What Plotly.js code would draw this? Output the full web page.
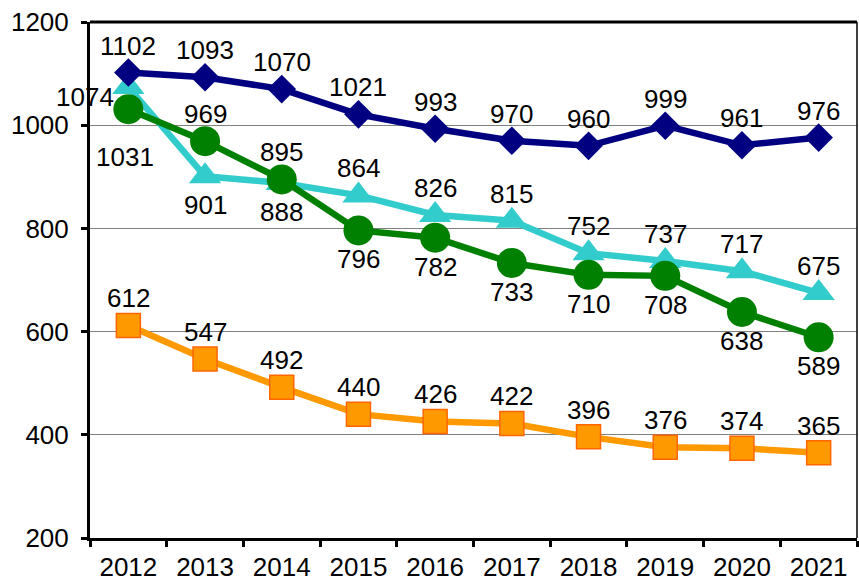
<!DOCTYPE html>
<html>
<head>
<meta charset="utf-8">
<script src="https://cdn.plot.ly/plotly-3.0.1.min.js"></script>
<style>html,body{margin:0;padding:0;background:#fff;}#chart{width:859px;height:582px;}</style>
</head>
<body>
<div id="chart"></div>
<script>
// ---- data ----
var years = ['2012','2013','2014','2015','2016','2017','2018','2019','2020','2021'];
var navyValues   = [1102, 1093, 1070, 1021, 993, 970, 960, 999, 961, 976];
var cyanValues   = [1074, 901, 888, 864, 826, 815, 752, 737, 717, 675];
var greenValues  = [1031, 969, 895, 796, 782, 733, 710, 708, 638, 589];
var orangeValues = [612, 547, 492, 440, 426, 422, 396, 376, 374, 365];
var yTicks = [200, 400, 600, 800, 1000, 1200];

// label side per point (style)
var navySides   = ['above','above','above','above','above','above','above','above','above','above'];
var cyanSides   = ['left','below','below','above','above','above','above','above','above','above'];
var greenSides  = ['belowfar','above','above','below','below','below','below','below','below','below'];
var orangeSides = ['above','above','above','above','above','above','above','above','above','above'];

var FONT = 'Liberation Sans, Arial, sans-serif';
var FSIZE = 26;
var shiftMap = {
  above:    {x: 0,   y: 27},
  below:    {x: 0,   y: -29},
  belowfar: {x: -3,  y: -48},
  left:     {x: -43, y: -10}
};

function series(vals, color, symbol, size, lineColor) {
  return {
    x: years, y: vals, type: 'scatter', mode: 'lines+markers',
    line: {color: color, width: 6.5},
    marker: {color: color, symbol: symbol, size: size,
             line: {color: lineColor || color, width: lineColor ? 1.5 : 0}},
    cliponaxis: false, hoverinfo: 'skip'
  };
}

var traces = [
  series(orangeValues, '#FF9900', 'square', 24, '#FF6600'),
  series(cyanValues, '#33CCCC', 'triangle-up', 28),
  series(greenValues, '#008000', 'circle', 30),
  series(navyValues, '#000080', 'diamond', 22)
];

var annotations = [];
function addLabels(vals, sides) {
  vals.forEach(function (v, i) {
    var s = shiftMap[sides[i]];
    annotations.push({
      x: i, y: v, xref: 'x', yref: 'y', text: String(v),
      showarrow: false, xshift: s.x, yshift: s.y,
      font: {family: FONT, size: FSIZE, color: '#000'}
    });
  });
}
addLabels(navyValues, navySides);
addLabels(cyanValues, cyanSides);
addLabels(greenValues, greenSides);
addLabels(orangeValues, orangeSides);

var layout = {
  width: 859, height: 582,
  margin: {l: 90, r: 2, t: 22, b: 44, pad: 0},
  paper_bgcolor: '#fff', plot_bgcolor: '#fff',
  showlegend: false,
  font: {family: FONT, size: FSIZE, color: '#000'},
  xaxis: {
    type: 'category', range: [-0.5, 9.5],
    showline: true, linecolor: '#000', linewidth: 3,
    ticks: 'outside', tickson: 'boundaries', ticklen: 6, tickwidth: 3, tickcolor: '#000',
    showgrid: false, zeroline: false,
    tickfont: {family: FONT, size: FSIZE, color: '#000'},
    ticklabelstandoff: 4, fixedrange: true
  },
  yaxis: {
    range: [200, 1200], tickmode: 'array', tickvals: yTicks, ticktext: yTicks.map(String),
    showline: true, linecolor: '#000', linewidth: 3,
    ticks: 'outside', ticklen: 6, tickwidth: 3, tickcolor: '#000',
    showgrid: true, gridcolor: '#808080', gridwidth: 1, zeroline: false,
    tickfont: {family: FONT, size: FSIZE, color: '#000'},
    ticklabelstandoff: 7, fixedrange: true
  },
  shapes: [
    {type: 'line', xref: 'paper', yref: 'paper', x0: 0, x1: 1, y0: 1, y1: 1,
     line: {color: '#000', width: 3}},
    {type: 'line', xref: 'paper', yref: 'paper', x0: 1, x1: 1, y0: 0, y1: 1,
     line: {color: '#000', width: 1.5}}
  ],
  annotations: annotations
};

Plotly.newPlot('chart', traces, layout, {displayModeBar: false, staticPlot: true});
</script>
</body>
</html>
